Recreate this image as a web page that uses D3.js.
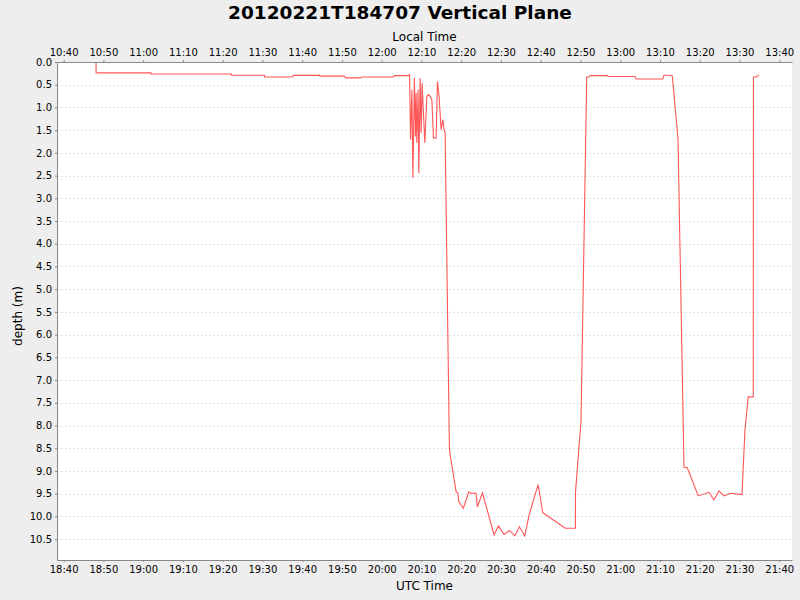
<!DOCTYPE html>
<html>
<head>
<meta charset="utf-8">
<script src="https://cdn.jsdelivr.net/npm/d3@7"></script>
<style>
  body { margin: 0; background: #eeeeee; }
  text { font-family: "DejaVu Sans", sans-serif; }
</style>
</head>
<body>
<div id="viz"></div>
<script>
// data: UTC time of each sample (2012-02-21) and depth in metres
var utcTimes = [
  "18:48:09", "18:48:10", "19:01:58", "19:02:00", "19:22:10", "19:22:12",
  "19:30:32", "19:30:34", "19:37:25", "19:37:50", "19:44:21", "19:44:25",
  "19:50:38", "19:51:00", "19:54:35", "19:55:00", "20:02:58", "20:03:10",
  "20:06:54", "20:07:00", "20:07:16", "20:07:36", "20:07:51", "20:08:14",
  "20:08:29", "20:08:40", "20:08:50", "20:09:10", "20:09:20", "20:09:40",
  "20:09:55", "20:10:10", "20:10:26", "20:10:51", "20:11:21", "20:11:51",
  "20:12:21", "20:12:37", "20:13:01", "20:13:41", "20:14:01", "20:14:26",
  "20:14:57", "20:15:22", "20:15:42", "20:15:57", "20:17:02", "20:18:43",
  "20:19:09", "20:19:24", "20:20:33", "20:21:55", "20:22:29", "20:23:45",
  "20:24:04", "20:25:20", "20:28:16", "20:29:21", "20:30:47", "20:32:07",
  "20:33:28", "20:34:38", "20:35:59", "20:37:04", "20:39:20", "20:40:31",
  "20:43:11", "20:46:11", "20:48:43", "20:48:45", "20:50:08", "20:51:34",
  "20:52:05", "20:52:24", "20:56:45", "20:56:56", "21:03:43", "21:03:58",
  "21:10:41", "21:11:00", "21:12:20", "21:13:05", "21:14:32", "21:16:02",
  "21:16:52", "21:19:38", "21:22:19", "21:23:34", "21:24:50", "21:26:05",
  "21:27:46", "21:30:37", "21:31:22", "21:31:37", "21:32:12", "21:33:27",
  "21:33:30", "21:34:19", "21:34:49"
];

var depths = [
  0.00, 0.24, 0.24, 0.265, 0.265, 0.29,
  0.29, 0.33, 0.33, 0.295, 0.295, 0.31,
  0.31, 0.35, 0.35, 0.33, 0.33, 0.30,
  0.30, 0.26, 1.71, 0.61, 2.55, 0.35,
  1.64, 0.68, 1.78, 0.61, 2.45, 0.35,
  1.56, 0.46, 1.00, 1.78, 0.76, 0.72,
  0.79, 0.83, 1.67, 1.67, 0.43, 0.76,
  1.49, 1.27, 1.49, 1.56, 8.54, 9.46,
  9.48, 9.68, 9.82, 9.46, 9.49, 9.49,
  9.79, 9.48, 10.41, 10.21, 10.40, 10.31,
  10.43, 10.23, 10.43, 9.97, 9.30, 9.92,
  10.08, 10.26, 10.26, 9.46, 7.90, 0.33,
  0.33, 0.30, 0.30, 0.32, 0.32, 0.375,
  0.375, 0.29, 0.29, 0.30, 1.70, 8.92,
  8.93, 9.55, 9.47, 9.64, 9.44, 9.55,
  9.49, 9.52, 8.10, 7.88, 7.37, 7.37,
  0.33, 0.33, 0.28
];

var yTicks = d3.range(0, 10.51, 0.5);
var day = "2012-02-21";
var localOffsetHours = -8;
var xStart = "18:38:20", xEnd = "21:43:12";

var parse = d3.utcParse("%Y-%m-%dT%H:%M:%S");
var fmt = d3.utcFormat("%H:%M");

var data = utcTimes.map(function(t, i) {
  return {t: parse(day + "T" + t), d: depths[i]};
});

var margin = {top: 62, right: 8, bottom: 40, left: 57},
    width = 800 - margin.left - margin.right,
    height = 600 - margin.top - margin.bottom;

var svg = d3.select("#viz").append("svg")
    .attr("width", 800)
    .attr("height", 600);

svg.append("rect")
    .attr("width", 800).attr("height", 600)
    .attr("fill", "#eeeeee");

var chart = svg.append("g")
    .attr("transform", "translate(" + margin.left + "," + margin.top + ")");

chart.append("rect")
    .attr("width", width).attr("height", height)
    .attr("fill", "#ffffff");

// scales
var xScale = d3.scaleUtc()
    .domain([parse(day + "T" + xStart), parse(day + "T" + xEnd)])
    .range([0, width]);

var xLocal = d3.scaleUtc()
    .domain(xScale.domain().map(function(d) { return d3.utcHour.offset(d, localOffsetHours); }))
    .range([0, width]);

var yScale = d3.scaleLinear()
    .domain([0, 10.96])
    .range([0, height]);

// grid
chart.append("g")
  .selectAll("line")
  .data(yTicks)
  .join("line")
    .attr("x1", 0).attr("x2", width)
    .attr("y1", function(d) { return Math.round(yScale(d)) + 0.5; })
    .attr("y2", function(d) { return Math.round(yScale(d)) + 0.5; })
    .attr("stroke", "#e2e2e2")
    .attr("stroke-dasharray", "2,2");

// line
var lineFunc = d3.line()
  .x(function(d) { return xScale(d.t); })
  .y(function(d) { return yScale(d.d); });

chart.append("path")
  .attr("d", lineFunc(data))
  .attr("stroke", "#ff5555")
  .attr("stroke-width", 1.1)
  .attr("fill", "none");

// axes
var yGuide = chart.append("g")
  .call(d3.axisLeft(yScale).tickValues(yTicks).tickFormat(d3.format(".1f"))
        .tickSize(2).tickSizeOuter(0).tickPadding(3));

var xGuide = chart.append("g")
  .attr("transform", "translate(0," + height + ")")
  .call(d3.axisBottom(xScale).ticks(d3.utcMinute.every(10)).tickFormat(fmt)
        .tickSize(2).tickSizeOuter(0).tickPadding(4));

var topGuide = chart.append("g")
  .call(d3.axisTop(xLocal).ticks(d3.utcMinute.every(10)).tickFormat(fmt)
        .tickSize(2).tickSizeOuter(0).tickPadding(4));

[yGuide, xGuide, topGuide].forEach(function(g) {
  g.select(".domain").attr("stroke", "#888888");
  g.selectAll(".tick line").attr("stroke", "#888888");
  g.selectAll(".tick text")
    .attr("fill", "#000000")
    .style("font-family", "DejaVu Sans")
    .style("font-size", "10px");
});

// titles
svg.append("text")
  .attr("x", 400).attr("y", 19)
  .attr("text-anchor", "middle")
  .style("font-size", "18.5px").style("font-weight", "bold")
  .text("20120221T184707 Vertical Plane");

svg.append("text")
  .attr("x", margin.left + width / 2).attr("y", 41)
  .attr("text-anchor", "middle")
  .style("font-size", "12px")
  .text("Local Time");

svg.append("text")
  .attr("x", margin.left + width / 2).attr("y", 590)
  .attr("text-anchor", "middle")
  .style("font-size", "12px")
  .text("UTC Time");

svg.append("text")
  .attr("transform", "translate(22," + (margin.top + height / 2 + 5) + ") rotate(-90)")
  .attr("text-anchor", "middle")
  .style("font-size", "12px")
  .text("depth (m)");
</script>
</body>
</html>
